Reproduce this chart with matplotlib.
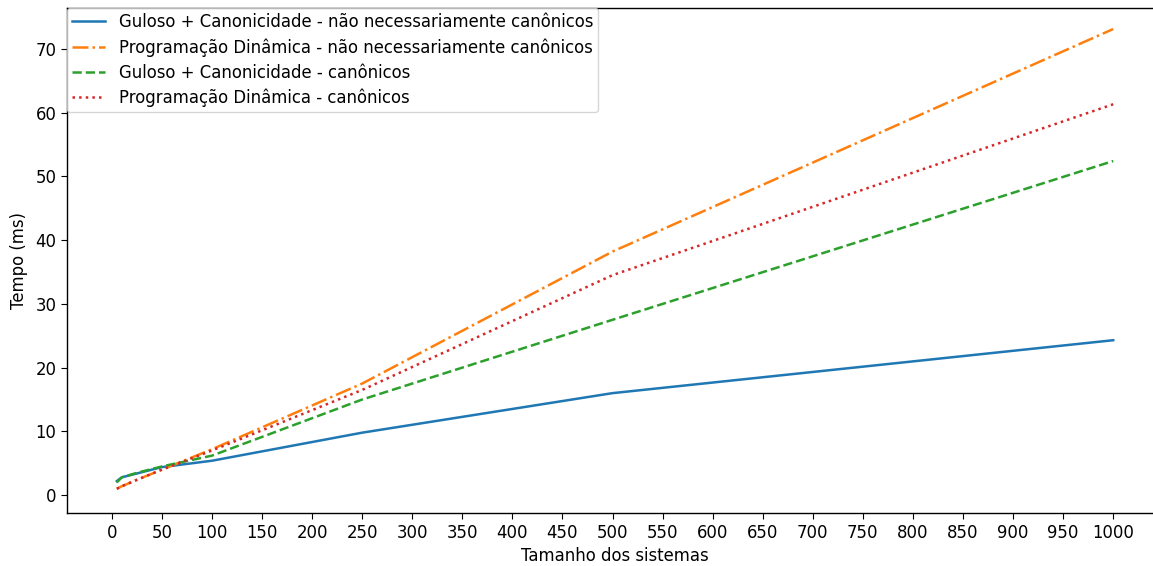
import numpy as np
from matplotlib import pyplot as plt

# tamanhos dos sistemas testados
tamanhos = [5, 10, 25, 50, 100, 250, 500, 1000]

# tempos medios (ms)
guloso_nao_canon = [2.2, 2.8, 3.4, 4.4, 5.4, 9.8, 16.0, 24.3]
pd_nao_canon = [1.0, 1.4, 2.4, 4.0, 7.2, 17.5, 38.2, 73.1]
guloso_canon = [2.0, 2.8, 3.5, 4.5, 6.2, 15.0, 27.5, 52.4]
pd_canon = [1.0, 1.4, 2.4, 4.0, 7.0, 16.5, 34.5, 61.3]

plt.rcParams['font.size'] = 11.9
plt.rcParams['xtick.major.size'] = 4.2
plt.rcParams['ytick.major.size'] = 4.2
plt.rcParams['axes.linewidth'] = 1.0

fig = plt.figure(figsize=(11.53, 5.66), dpi=100)
ax = fig.add_axes([0.0581, 0.0936, 0.9506, 0.8923])

lw = 1.8
ax.plot(tamanhos, guloso_nao_canon, '-', color='#1f77b4', lw=lw,
        label='Guloso + Canonicidade - não necessariamente canônicos')
ax.plot(tamanhos, pd_nao_canon, '-.', color='#ff7f0e', lw=lw,
        label='Programação Dinâmica - não necessariamente canônicos')
ax.plot(tamanhos, guloso_canon, '--', color='#2ca02c', lw=lw,
        label='Guloso + Canonicidade - canônicos')
ax.plot(tamanhos, pd_canon, ':', color='#d62728', lw=lw,
        label='Programação Dinâmica - canônicos')

ax.set_xticks(np.arange(0, 1001, 50))
ax.set_xlim(-44.75, 1049.75)
ax.set_ylim(-2.8, 76.4)
ax.set_xlabel('Tamanho dos sistemas')
ax.set_ylabel('Tempo (ms)', labelpad=5)
ax.spines['right'].set_visible(False)

ax.legend(loc='upper left', bbox_to_anchor=(0, 1), borderaxespad=0,
          labelspacing=0.42, borderpad=0.32)

plt.savefig('out.png', dpi=100)
